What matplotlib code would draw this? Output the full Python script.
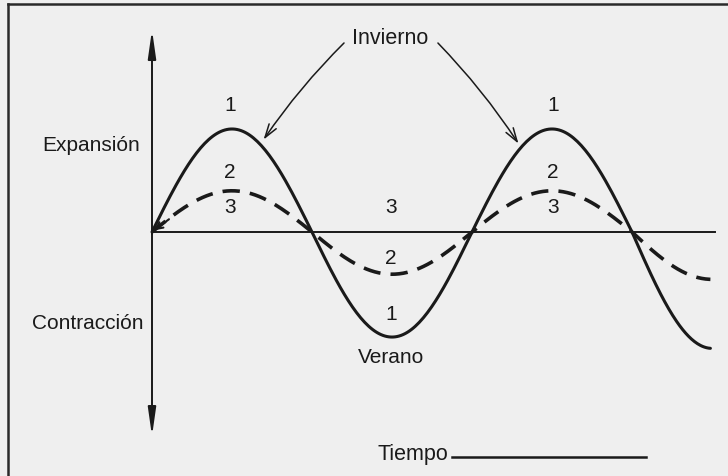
import numpy as np
import matplotlib.pyplot as plt

# half-wave extremes (units: peak of curve 1 = 1)
crossings = [0, 1, 2, 3]          # zero crossings, in half periods
curve1_ext = [1.00, -1.02, 1.00, -1.13]
curve2_ext = [0.40, -0.41, 0.40, -0.46]
t_end = 3.49

INK = "#1a1a1a"
BG = "#efefef"
plt.rcParams["font.family"] = ["Liberation Sans", "DejaVu Sans"]


def half_waves(ext):
    xs, ys = [], []
    for i, a in enumerate(ext):
        x0 = crossings[i]
        x1 = min(x0 + 1, t_end)
        t = np.linspace(x0, x1, 80)
        xs.append(t)
        ys.append(a * np.sin(np.pi * (t - x0)))
    return np.concatenate(xs), np.concatenate(ys)


fig = plt.figure(figsize=(7.28, 4.77), dpi=100, facecolor=BG)
ax = fig.add_axes([0, 0, 1, 1])
ax.set_facecolor(BG)
ax.set_xlim(-0.95, 3.6)
ax.set_ylim(-2.369, 2.262)
ax.axis("off")

# scan frame (top and left edges only)
ax.plot([0.011, 1], [0.9895, 0.9895], transform=ax.transAxes, color="#2a2a2a", lw=1.8, clip_on=False)
ax.plot([0.011, 0.011], [0, 0.9895], transform=ax.transAxes, color="#2a2a2a", lw=1.8, clip_on=False)

# axes
head = "-|>,head_length=1.2,head_width=0.17"
ax.annotate("", xy=(0, 1.99), xytext=(0, -0.05),
            arrowprops=dict(arrowstyle=head, color=INK, lw=1.4, mutation_scale=14))
ax.annotate("", xy=(0, -2.01), xytext=(0, 0.05),
            arrowprops=dict(arrowstyle=head, color=INK, lw=1.4, mutation_scale=14))
ax.plot([0, 3.52], [0, 0], color=INK, lw=1.4)

x1, y1 = half_waves(curve1_ext)
x2, y2 = half_waves(curve2_ext)
ax.plot(x1, y1, color=INK, lw=2.2, solid_capstyle="round")
ax.plot(x2, y2, color=INK, lw=2.6, dashes=(4.8, 2.8))

# small arrowhead at the origin
ax.annotate("", xy=(0.0, 0.0), xytext=(0.12, 0.14),
            arrowprops=dict(arrowstyle="->", color=INK, lw=1.5, mutation_scale=12))

fs = 15
ax.text(1.4875, 1.89, "Invierno", fontsize=15.5, ha="center", va="center", color=INK)
ax.annotate("", xy=(0.6875, 0.874), xytext=(1.2125, 1.854),
            arrowprops=dict(arrowstyle="->,head_length=0.7,head_width=0.22", color=INK, lw=1.1,
                            mutation_scale=14, connectionstyle="arc3,rad=0.05"))
ax.annotate("", xy=(2.3, 0.835), xytext=(1.775, 1.854),
            arrowprops=dict(arrowstyle="->,head_length=0.7,head_width=0.22", color=INK, lw=1.1,
                            mutation_scale=14, connectionstyle="arc3,rad=-0.05"))

ax.text(-0.075, 0.854, "Expansión", fontsize=fs, ha="right", va="center", color=INK)
ax.text(-0.05, -0.874, "Contracción", fontsize=fs, ha="right", va="center", color=INK)

for x, y, s in [(0.4875, 1.233, "1"), (2.506, 1.233, "1"), (1.494, -0.796, "1"),
                (0.4875, 0.592, "2"), (2.506, 0.592, "2"), (1.494, -0.243, "2"),
                (0.4875, 0.243, "3"), (1.494, 0.243, "3"), (2.506, 0.243, "3")]:
    ax.text(x, y, s, fontsize=fs, ha="center", va="center", color=INK)

ax.text(1.494, -1.204, "Verano", fontsize=fs, ha="center", va="center", color=INK)
ax.text(1.63, -2.155, "Tiempo", fontsize=15.5, ha="center", va="center", color=INK)
ax.plot([1.875, 3.0875], [-2.184, -2.184], color=INK, lw=1.8)

fig.savefig("out.png", dpi=100, facecolor=fig.get_facecolor())
